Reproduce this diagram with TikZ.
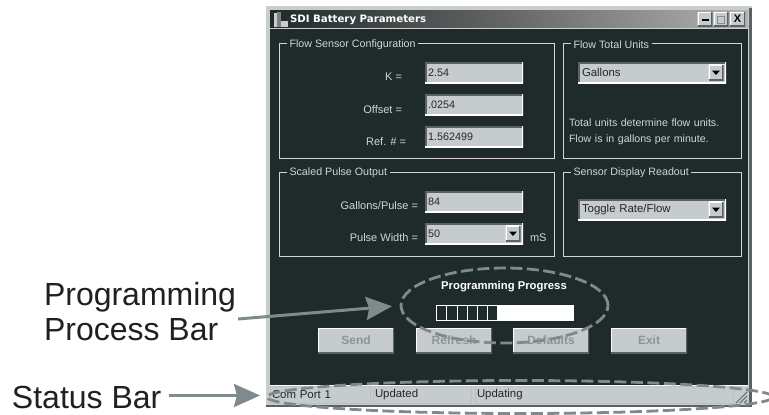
\documentclass[tikz,border=0pt]{standalone}
\usepackage{fontspec}
\setmainfont{Liberation Sans}
\newfontfamily\titlefont{DejaVu Sans}
\usetikzlibrary{arrows.meta,shapes.geometric,calc}
\definecolor{body}{HTML}{1F2A2A}
\definecolor{frame}{HTML}{C9CDCE}
\definecolor{panel}{HTML}{C6CBCE}
\definecolor{uitext}{HTML}{D2D6D6}
\definecolor{marker}{HTML}{7F8A8D}
\definecolor{ink}{HTML}{231F20}
\definecolor{edgedark}{HTML}{5A6264}
\definecolor{dimtext}{HTML}{8C9497}
\tikzset{
  x=1pt,y=-1pt,
  every node/.style={inner sep=0pt,outer sep=0pt},
  sunken/.style={fill=panel,path picture={
    \draw[edgedark,line width=3pt] (path picture bounding box.south west)--(path picture bounding box.north west)--(path picture bounding box.north east);
    \draw[white,line width=2pt] (path picture bounding box.south west)--(path picture bounding box.south east)--(path picture bounding box.north east);}},
  raised/.style={fill=panel,path picture={
    \draw[white,line width=2pt] (path picture bounding box.south west)--(path picture bounding box.north west)--(path picture bounding box.north east);
    \draw[edgedark,line width=2.5pt] (path picture bounding box.south west)--(path picture bounding box.south east)--(path picture bounding box.north east);}},
  fieldbox/.style={sunken,minimum width=98pt,minimum height=21pt,anchor=north west,text=black!85,font=\fontsize{10.8}{12}\selectfont,text width=92pt,align=left,inner xsep=3pt},
  combobox/.style={fieldbox,minimum width=148pt,text width=140pt,inner xsep=4pt,font=\fontsize{11.4}{13}\selectfont},
  arrowbtn/.style={raised,minimum width=15pt,minimum height=16pt},
  actionbtn/.style={raised,minimum width=76pt,minimum height=25pt,anchor=north west,text=dimtext,font=\fontsize{12}{14}\selectfont\bfseries},
  groupframe/.style={draw=uitext,line width=1pt,anchor=north west},
  grouptitle/.style={fill=body,text=uitext,anchor=west,inner xsep=2.5pt,font=\fontsize{10.7}{12}\selectfont,inner ysep=1pt},
  uilabel/.style={text=uitext,font=\fontsize{11}{13}\selectfont},
  statuscell/.style={fill=panel,draw=white!75!black,line width=.7pt,anchor=north west,minimum height=17pt,text=black!85,align=left,inner xsep=2pt,font=\fontsize{11.4}{13}\selectfont},
  callout/.style={text=ink,font=\fontsize{32}{36}\selectfont,anchor=base west},
  ring/.style={ellipse,draw=marker,line width=2.8pt,dash pattern=on 12pt off 4.5pt},
  pointer/.style={draw=marker,line width=3pt,-{Stealth[length=26pt,width=23pt,inset=3pt,fill=marker]}},
  capbtn/.style={raised,minimum width=15pt,minimum height=14pt,text=black,font=\fontsize{11}{11}\selectfont\bfseries},
}
\begin{document}
\begin{tikzpicture}
\useasboundingbox (0,0) rectangle (769,415);
\fill[white] (0,0) rectangle (769,415);
% window
\fill[frame] (266,6) rectangle (752,407);
\fill[edgedark] (749,8) rectangle (752,407);
\fill[edgedark] (266,405) rectangle (752,407);
\fill[body] (270,10) rectangle (748,385);
\shade[left color=body,right color=black!30,middle color=black!60] (270,10) rectangle (748,28);
\draw[frame,line width=.8pt] (270,28.5)--(748,28.5);
% title icon
\fill[frame] (274,13) rectangle (277,27);
\fill[black!50] (277,12) rectangle (281,27);
\fill[frame] (281,21) rectangle (288,27);
\node[anchor=west,text=white,font=\titlefont\fontsize{10.2}{12}\selectfont\bfseries] (wintitle) at (290,19.5) {SDI Battery Parameters};
\node[capbtn] (capmin) at (705,19) {\raisebox{-3pt}{\rule{7pt}{1.6pt}}};
\node[capbtn] (capmax) at (721,19) {\textcolor{black!45}{\rule[-4pt]{0pt}{9pt}\fboxsep=3.2pt\fboxrule=.7pt\fbox{}}};
\node[capbtn] (capclose) at (737.5,19) {X};
% groups
\node[groupframe,minimum width=275pt,minimum height=115pt] (g1) at (279,43) {};
\node[groupframe,minimum width=275pt,minimum height=84pt] (g2) at (279,172) {};
\node[groupframe,minimum width=178pt,minimum height=115pt] (g3) at (563,43) {};
\node[groupframe,minimum width=178pt,minimum height=84pt] (g4) at (563,172) {};
\node[grouptitle] (t1) at (287,44.5) {Flow Sensor Configuration};
\node[grouptitle] (t2) at (287,173) {Scaled Pulse Output};
\node[grouptitle] (t3) at (571,44.5) {Flow Total Units};
\node[grouptitle] (t4) at (571,173) {Sensor Display Readout};
% flow sensor
\node[uilabel,anchor=east] (lk) at (402,77) {K =};
\node[uilabel,anchor=east] (lo) at (402,110) {Offset =};
\node[uilabel,anchor=east] (lr) at (406,142) {Ref. \# =};
\node[fieldbox] (fk) at (425,62) {2.54};
\node[fieldbox] (fo) at (425,94) {.0254};
\node[fieldbox] (fr) at (425,126) {1.562499};
% pulse
\node[uilabel,anchor=east] (lg) at (418,206) {Gallons/Pulse =};
\node[uilabel,anchor=east] (lp) at (418,238) {Pulse Width =};
\node[fieldbox] (fg) at (425,191) {84};
\node[fieldbox] (fp) at (425,223) {50};
\node[arrowbtn] (bp) at (513,233.5) {};
\fill[black] ($(bp.center)+(-4,-2)$) -- ++(8,0) -- ++(-4,4.5) -- cycle;
\node[uilabel,anchor=west] (lms) at (530,238) {mS};
% units
\node[combobox] (cu) at (578,62) {Gallons};
\node[arrowbtn] (bu) at (716,72.5) {};
\fill[black] ($(bu.center)+(-4,-2)$) -- ++(8,0) -- ++(-4,4.5) -- cycle;
\node[uilabel,anchor=north west,align=left,text width=175pt,font=\fontsize{10.6}{16}\selectfont] (note) at (569,118.5) {Total units determine flow units.\\Flow is in gallons per minute.};
% sensor readout
\node[combobox] (cs) at (578,199) {Toggle Rate/Flow};
\node[arrowbtn] (bs) at (716,209.5) {};
\fill[black] ($(bs.center)+(-4,-2)$) -- ++(8,0) -- ++(-4,4.5) -- cycle;
% progress
\node[text=white,font=\fontsize{11.3}{13}\selectfont\bfseries] (ptitle) at (504,287) {Programming Progress};
\node[fill=white,minimum width=138pt,minimum height=16pt,anchor=north west] (pbar) at (436,305) {};
\foreach \i in {0,...,5}{
  \node[fill=body,draw=white,line width=.8pt,minimum width=10.2pt,minimum height=15pt,anchor=north west] (cell\i) at ({436.5+\i*10.2},305.5) {};
}
% buttons
\node[actionbtn] (bsend) at (318,328) {Send};
\node[actionbtn] (brefresh) at (416,328) {Refresh};
\node[actionbtn] (bdefaults) at (513,328) {Defaults};
\node[actionbtn] (bexit) at (611,328) {Exit};
% status bar
\fill[panel] (270,385) rectangle (748,404);
\draw[white,line width=.8pt] (270,385.5)--(748,385.5);
\node[statuscell,minimum width=100pt,text width=96pt] (s1) at (270,386) {Com Port 1};
\node[statuscell,minimum width=98pt,text width=94pt] (s2) at (373,386) {Updated};
\node[statuscell,minimum width=258pt,text width=254pt] (s3) at (475,386) {Updating};
\foreach \d in {0,4,8}{\draw[edgedark,line width=.8pt] (736+\d,403)--(747,392+\d);}
% callouts
\node[callout] (lab1) at (44,305) {Programming};
\node[callout] (lab2) at (44,340) {Process Bar};
\node[callout] (lab3) at (12,408) {Status Bar};
\node[ring,minimum width=207pt,minimum height=75pt] (ring1) at (504.5,305.5) {};
\begin{scope}
\clip (0,0) rectangle (769,415);
\node[ring,minimum width=506pt,minimum height=33pt] (ring2) at (520,397) {};
\end{scope}
\coordinate (from1) at ($(lab1.base east)+(2,14)$);
\coordinate (from2) at ($(lab3.east)+(8,-1.5)$);
\draw[pointer,shorten >=9pt] (from1) -- (ring1.west);
\draw[pointer,shorten >=7pt] (from2) -- (ring2.west |- from2);
\end{tikzpicture}
\end{document}
